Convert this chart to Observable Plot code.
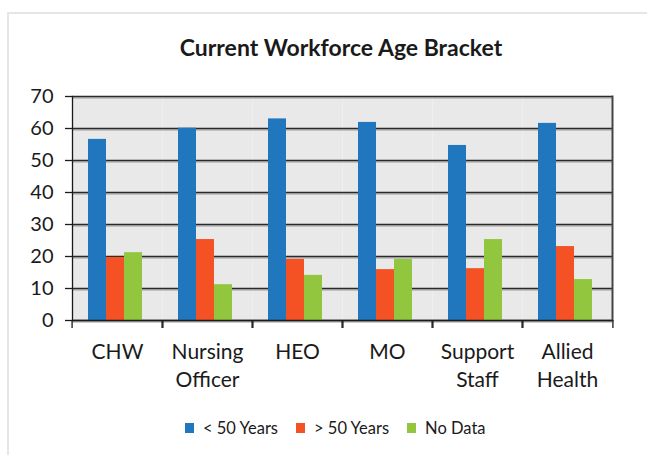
<!DOCTYPE html>
<html>
<head>
<meta charset="utf-8">
<script src="https://cdn.jsdelivr.net/npm/d3@7"></script>
<script src="https://cdn.jsdelivr.net/npm/@observablehq/plot@0.6"></script>
<style>
  html, body { margin: 0; padding: 0; background: #fff; overflow: hidden; }
  #wrap { position: relative; width: 647px; height: 455px; overflow: hidden; font-family: Lato, sans-serif; color: #1a1a1a; }
  #border { position: absolute; left: 7px; top: 12px; width: 720px; height: 520px; border: 2px solid #e6e6e6; box-sizing: border-box; }
  #title { position: absolute; left: 0; width: 682px; top: 33px; text-align: center; font-weight: bold; font-size: 23px; }
  #chart { position: absolute; left: 0; top: 0; }
  #legend { position: absolute; top: 418px; left: 185px; display: flex; font-size: 16.5px; white-space: nowrap; }
  .item { display: flex; align-items: center; margin-right: 18px; }
  .sw { width: 9px; height: 10px; margin-right: 9px; }
</style>
</head>
<body>
<div id="wrap">
  <div id="border"></div>
  <div id="chart"></div>
  <div id="title">Current Workforce Age Bracket</div>
  <div id="legend"></div>
</div>
<script>
const categories = ["CHW", "Nursing\nOfficer", "HEO", "MO", "Support\nStaff", "Allied\nHealth"];
const series = ["< 50 Years", "> 50 Years", "No Data"];
const under50 = [56.6, 60.1, 63.0, 61.9, 54.7, 61.6];
const over50 = [19.7, 25.3, 19.1, 15.9, 16.2, 23.1];
const noData = [21.2, 11.2, 14.1, 19.1, 25.3, 12.8];
const colors = ["#2177BD", "#F45124", "#92C63F"];
const yTicks = [0, 10, 20, 30, 40, 50, 60, 70];

const values = [under50, over50, noData];
const data = [];
categories.forEach((c, i) => series.forEach((s, j) => data.push({category: c, series: s, value: values[j][i]})));

const W = 647, H = 455, mL = 69, mR = 33, mT = 96, mB = 135;
const band = (W - mL - mR) / categories.length;

const chart = Plot.plot({
  width: W, height: H,
  marginLeft: mL, marginRight: mR, marginTop: mT, marginBottom: mB,
  style: {fontFamily: "Lato, sans-serif", fontSize: "20px", color: "#1a1a1a", background: "transparent", overflow: "visible"},
  fx: {domain: categories, padding: 0, label: null},
  x: {domain: series, paddingInner: 0, paddingOuter: 0.93, align: 0.45, axis: null},
  y: {domain: [0, 70], ticks: yTicks, label: null},
  color: {domain: series, range: colors},
  marks: [
    Plot.frame({fill: "#e9e9e9", stroke: null}),
    Plot.gridY(yTicks, {stroke: "#9a9a9a", strokeOpacity: 1, strokeWidth: 1, dy: 1.5}),
    Plot.gridY(yTicks, {stroke: "#2a2a2a", strokeOpacity: 1, strokeWidth: 1.3}),
    Plot.barY(data, {fx: "category", x: "series", y: "value", fill: "series"}),
    Plot.ruleY([0], {stroke: "#1a1a1a", strokeWidth: 1.3}),
    Plot.frame({anchor: "left", facetAnchor: "left", stroke: "#1a1a1a", strokeWidth: 1.3}),
    Plot.frame({anchor: "right", facetAnchor: "right", stroke: "#444", strokeWidth: 2}),
    Plot.axisY(yTicks, {tickSize: 7, tickPadding: 12, label: null, fontSize: 20, stroke: "#1a1a1a", strokeWidth: 1.3}),
    Plot.axisFx({anchor: "bottom", text: null, tickSize: 8, dx: -band / 2, stroke: "#1a1a1a", strokeWidth: 1.3}),
    Plot.axisFx([categories[categories.length - 1]], {anchor: "bottom", text: null, tickSize: 8, dx: band / 2, stroke: "#1a1a1a", strokeWidth: 1.3}),
    Plot.axisFx({anchor: "bottom", tickSize: 0, tickPadding: 19, lineHeight: 1.33, fontSize: 21, label: null})
  ]
});
document.getElementById("chart").append(chart);

const legend = document.getElementById("legend");
series.forEach((s, i) => {
  const item = document.createElement("div");
  item.className = "item";
  const sw = document.createElement("div");
  sw.className = "sw";
  sw.style.background = colors[i];
  const t = document.createElement("span");
  t.textContent = s;
  item.append(sw, t);
  legend.append(item);
});
</script>
</body>
</html>
